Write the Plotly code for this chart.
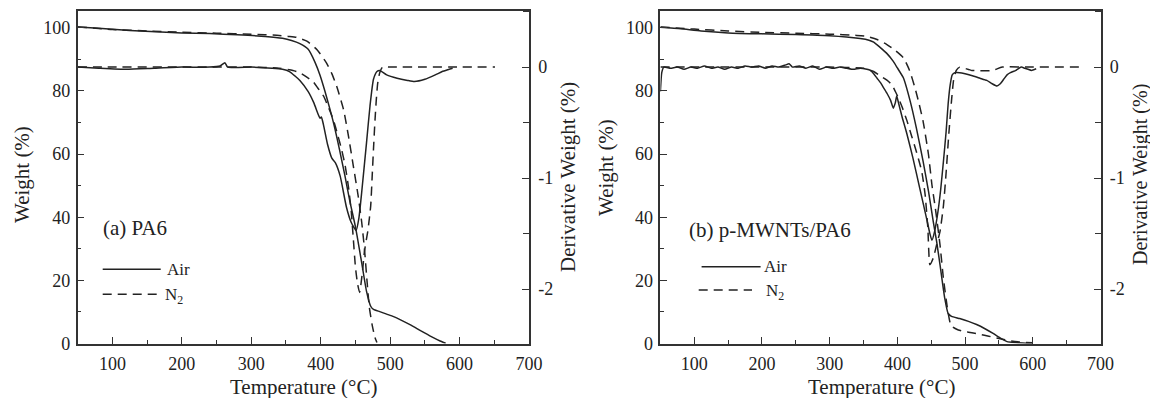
import plotly.graph_objects as go

# ---------------- data ----------------
# Panel (a) PA6
a_tga_air_T = [50, 80, 110, 140, 170, 200, 240, 280, 320, 345, 358, 370, 382, 392, 399, 406, 413, 420, 427, 435,
               442, 450, 459, 466, 472, 476, 485, 495, 505, 515, 530, 545, 560, 572, 580]
a_tga_air_W = [100.3, 99.9, 99.4, 99.0, 98.7, 98.4, 98.2, 97.8, 97.3, 96.7, 96.0, 95.0, 93.2, 89.0, 85.0, 80.0, 74.5,
               68.5, 61.5, 53.0, 45.0, 37.0, 25.6, 16.5, 11.8, 10.8, 10.1, 9.3, 8.5, 7.5, 5.8, 3.9, 2.1, 0.8, 0.1]

a_tga_n2_T = [50, 100, 150, 200, 250, 300, 340, 353, 365, 380, 395, 408, 416, 423, 433, 440, 447, 454, 459, 463,
              467, 470, 474, 478, 481]
a_tga_n2_W = [100.3, 99.5, 99.0, 98.6, 98.3, 98.0, 97.6, 97.3, 97.0, 95.8, 93.0, 89.0, 85.5, 81.5, 74.0, 65.7, 56.2,
              46.7, 38.5, 30.0, 19.0, 11.5, 6.0, 2.0, 0.3]

a_dtg_air_T = [50, 80, 120, 160, 200, 240, 255, 262, 266, 300, 330, 345, 355, 363, 370, 382, 390, 396, 399, 401,
               404, 410, 416, 421, 428, 437, 444, 451, 455, 459, 466, 471, 476, 481, 485, 495, 510, 525, 535, 550,
               565, 575, 585, 590]
a_dtg_air_D = [0.0, -0.01, -0.02, -0.01, 0.0, 0.0, 0.01, 0.04, 0.0, 0.0, -0.01, -0.02, -0.04, -0.08, -0.12, -0.22,
               -0.32, -0.42, -0.46, -0.45, -0.52, -0.70, -0.82, -0.86, -0.98, -1.26, -1.40, -1.47, -1.36, -1.13,
               -0.68, -0.35, -0.11, -0.04, -0.03, -0.07, -0.10, -0.12, -0.13, -0.11, -0.07, -0.04, -0.02, -0.01]

a_dtg_n2_T = [50, 100, 200, 300, 340, 360, 370, 380, 389, 396, 404, 411, 418, 424, 430, 435, 440, 444, 447, 450,
              453, 456, 460, 463, 468, 472, 474, 476, 478, 480, 482, 485, 489, 500, 550, 600, 651]
a_dtg_n2_D = [0.0, 0.0, 0.0, 0.0, -0.01, -0.03, -0.05, -0.09, -0.13, -0.19, -0.26, -0.36, -0.47, -0.60, -0.74,
              -0.88, -1.08, -1.30, -1.55, -1.80, -1.95, -2.03, -1.85, -1.66, -1.47, -1.25, -1.00, -0.74, -0.50,
              -0.30, -0.15, -0.05, 0.0, 0.0, 0.0, 0.0, 0.0]

# Panel (b) p-MWNTs/PA6
b_tga_air_T = [50, 80, 110, 150, 200, 250, 300, 345, 358, 365, 374, 384, 394, 400, 409, 419, 428, 438, 446, 453,
               458, 463, 470, 475, 480, 492, 505, 517, 530, 542, 550, 556, 562, 575, 590, 600]
b_tga_air_W = [100.2, 99.7, 99.0, 98.4, 98.1, 97.9, 97.5, 96.6, 96.1, 95.5, 93.9, 92.0, 89.4, 87.3, 84.1, 76.7,
               68.3, 57.7, 48.2, 38.6, 32.3, 24.9, 14.3, 9.5, 8.6, 7.9, 7.0, 6.0, 4.6, 3.1, 2.0, 1.2, 0.6, 0.3,
               0.1, 0.0]

b_tga_n2_T = [50, 100, 150, 200, 250, 300, 340, 355, 370, 384, 397, 409, 418, 426, 432, 438, 446, 451, 456, 463,
              468, 474, 478, 482, 490, 500, 510, 522, 535, 550, 565, 580, 600]
b_tga_n2_W = [100.3, 99.6, 99.0, 98.6, 98.3, 98.0, 97.6, 97.3, 96.3, 94.8, 92.8, 90.5, 86.5, 81.0, 76.0, 70.4,
              59.8, 50.3, 43.0, 31.2, 20.6, 11.0, 6.5, 5.2, 4.3, 3.8, 3.4, 2.9, 2.3, 1.6, 0.9, 0.5, 0.2]

b_dtg_air_T = [50, 52, 55, 65, 75, 85, 95, 105, 115, 125, 135, 145, 155, 165, 175, 185, 195, 205, 215, 225,
               235, 240, 245, 255, 265, 275, 285, 295, 305, 315, 325, 335, 345, 355, 360, 365, 370, 375, 380, 385,
               390, 394, 397, 399, 402, 407, 414, 423, 433, 443, 448, 451, 455, 460, 464, 468, 472, 475, 478, 481,
               485, 492, 500, 512, 522, 532, 540, 547, 552, 557, 562, 567, 575, 583, 588, 593, 598, 605]
b_dtg_air_D = [-0.22, -0.05, 0.0, -0.01, 0.0, -0.02, 0.0, -0.01, 0.01, -0.01, 0.0, -0.02, 0.0, -0.01, 0.01, 0.0,
               0.01, -0.01, 0.01, 0.0, 0.02, 0.03, 0.0, 0.01, -0.01, 0.01, -0.02, 0.0, -0.01, 0.0, -0.01, -0.02,
               -0.01, -0.02, -0.03, -0.06, -0.10, -0.14, -0.19, -0.24, -0.30, -0.37, -0.32, -0.26, -0.33, -0.45,
               -0.60, -0.82, -1.09, -1.36, -1.50, -1.56, -1.48, -1.30, -1.10, -0.85, -0.58, -0.33, -0.16, -0.07,
               -0.05, -0.05, -0.06, -0.08, -0.10, -0.12, -0.15, -0.17, -0.15, -0.11, -0.07, -0.05, -0.03, 0.0,
               -0.01, -0.02, -0.03, -0.015]

b_dtg_n2_T = [50, 100, 200, 300, 350, 365, 375, 385, 392, 397, 401, 407, 414, 421, 428, 436, 441, 445, 448, 453,
              458, 463, 468, 472, 476, 480, 483, 487, 492, 510, 540, 555, 600, 670]
b_dtg_n2_D = [0.0, 0.0, 0.0, 0.0, -0.01, -0.04, -0.08, -0.12, -0.16, -0.22, -0.27, -0.36, -0.48, -0.62, -0.76,
              -0.94, -1.15, -1.45, -1.78, -1.72, -1.60, -1.48, -1.25, -0.95, -0.60, -0.30, -0.12, -0.03, 0.0,
              -0.03, -0.03, 0.0, 0.0, 0.0]

x_ticks = [100, 200, 300, 400, 500, 600, 700]
y_ticks = [0, 20, 40, 60, 80, 100]
y2_ticks = [-2, -1, 0]
y2_labels = ["-2", "-1", "0"]
panel_labels = ["(a) PA6", "(b) p-MWNTs/PA6"]
legend_labels = ["Air", "N<sub>2</sub>"]

# ---------------- figure ----------------
# The page body has an 8px margin, so the figure is drawn 8px in from the
# window's top-left corner; size it so that it ends at the window's edges.
OFF = 8
WIN_W, WIN_H = 1158, 398
W, H = WIN_W - OFF, WIN_H - OFF
FONT = "Liberation Serif"
INK = "#222222"
DASH = "9px,6px"
LW = 1.5


def px(x):
    return (x - OFF) / W


def py(y):
    return 1 - (y - OFF) / H


fig = go.Figure()


def add_panel(n, tga_air, tga_n2, dtg_air, dtg_n2):
    xa = "x" if n == 0 else "x2"
    ya = "y" if n == 0 else "y3"
    ya2 = "y2" if n == 0 else "y4"
    for (T, V), yref, dash in [(tga_air, ya, "solid"), (tga_n2, ya, DASH),
                               (dtg_air, ya2, "solid"), (dtg_n2, ya2, DASH)]:
        fig.add_trace(go.Scatter(x=T, y=V, xaxis=xa, yaxis=yref, mode="lines",
                                 line=dict(color=INK, width=LW, dash=dash, shape="spline", smoothing=0.5),
                                 showlegend=False, hoverinfo="skip"))


add_panel(0, (a_tga_air_T, a_tga_air_W), (a_tga_n2_T, a_tga_n2_W),
          (a_dtg_air_T, a_dtg_air_D), (a_dtg_n2_T, a_dtg_n2_D))
add_panel(1, (b_tga_air_T, b_tga_air_W), (b_tga_n2_T, b_tga_n2_W),
          (b_dtg_air_T, b_dtg_air_D), (b_dtg_n2_T, b_dtg_n2_D))

ydom = [py(343.5), py(10.5)]
xdoms = [[px(77.7), px(529.0)], [px(660.4), px(1100.5)]]

tickfont = dict(family=FONT, size=18, color=INK)
axline = dict(showline=True, linecolor="#333333", linewidth=1.5, showgrid=False, zeroline=False,
              automargin=False, fixedrange=True)


def xaxis_cfg(dom, anchor):
    return dict(domain=dom, anchor=anchor, range=[50, 700], tickmode="array", tickvals=x_ticks,
                ticks="inside", ticklen=7, tickwidth=1.3, tickcolor="#333333", mirror=True,
                ticklabelstandoff=3,
                minor=dict(tickmode="linear", tick0=50, dtick=50, ticks="inside", ticklen=4,
                           tickwidth=1.2, tickcolor="#333333"),
                tickfont=tickfont, **axline)


def yaxis_cfg(anchor):
    return dict(domain=ydom, anchor=anchor, range=[0, 105.5], tickmode="array", tickvals=y_ticks,
                ticks="inside", ticklen=7, tickwidth=1.3, tickcolor="#333333",
                ticklabelstandoff=2,
                minor=dict(tickmode="linear", tick0=0, dtick=10, ticks="inside", ticklen=4,
                           tickwidth=1.2, tickcolor="#333333"),
                tickfont=tickfont, **axline)


def y2axis_cfg(anchor, overlay):
    return dict(domain=ydom, anchor=anchor, overlaying=overlay, side="right", range=[-2.49, 0.51],
                tickmode="array", tickvals=y2_ticks, ticktext=y2_labels,
                ticks="inside", ticklen=7, tickwidth=1.3, tickcolor="#333333",
                ticklabelstandoff=4,
                minor=dict(tickmode="linear", tick0=0, dtick=0.5, ticks="inside", ticklen=6,
                           tickwidth=1.2, tickcolor="#333333"),
                tickfont=tickfont, **axline)


fig.update_layout(
    template="none",
    width=W, height=H, autosize=False,
    margin=dict(l=0, r=0, t=0, b=0, pad=0),
    paper_bgcolor="white", plot_bgcolor="white",
    font=dict(family=FONT, color=INK),
    xaxis=xaxis_cfg(xdoms[0], "y"),
    yaxis=yaxis_cfg("x"),
    yaxis2=y2axis_cfg("x", "y"),
    xaxis2=xaxis_cfg(xdoms[1], "y3"),
    yaxis3=yaxis_cfg("x2"),
    yaxis4=y2axis_cfg("x2", "y3"),
)

ann = []
titlefont = dict(family=FONT, size=21, color=INK)
# axis titles
for cx in [303, 881]:
    ann.append(dict(text="Temperature (°C)", x=px(cx), y=py(387), xref="paper", yref="paper",
                    xanchor="center", yanchor="middle", showarrow=False, font=titlefont))
for cx, cy in [(22, 175), (606, 168)]:
    ann.append(dict(text="Weight (%)", x=px(cx), y=py(cy), xref="paper", yref="paper", textangle=-90,
                    xanchor="center", yanchor="middle", showarrow=False, font=titlefont))
for cx, cy, fs in [(568, 177, 21), (1140, 175, 20)]:
    ann.append(dict(text="Derivative Weight (%)", x=px(cx), y=py(cy), xref="paper", yref="paper",
                    textangle=-90, xanchor="center", yanchor="middle", showarrow=False,
                    font=dict(family=FONT, size=fs, color=INK)))
# panel labels
for lab, lx, ly in [(panel_labels[0], 100.6, 228), (panel_labels[1], 687, 230)]:
    ann.append(dict(text=lab, x=px(lx), y=py(ly), xref="paper", yref="paper", xanchor="left",
                    yanchor="middle", showarrow=False, font=dict(family=FONT, size=21, color=INK)))

# legend samples (decoration)
shapes = []
legfont = dict(family=FONT, size=17, color=INK)
for (sx0, sx1, sy, tx), (dx0, dx1, dy, tx2) in [((102.7, 160.7, 269.3, 165), (102.7, 157, 294.3, 163)),
                                                ((701.6, 760.6, 266.7, 762), (698.7, 752, 290.0, 764))]:
    shapes.append(dict(type="line", xref="paper", yref="paper", x0=px(sx0), x1=px(sx1), y0=py(sy), y1=py(sy),
                       line=dict(color=INK, width=LW)))
    shapes.append(dict(type="line", xref="paper", yref="paper", x0=px(dx0), x1=px(dx1), y0=py(dy), y1=py(dy),
                       line=dict(color=INK, width=LW, dash=DASH)))
    ann.append(dict(text=legend_labels[0], x=px(tx), y=py(sy), xref="paper", yref="paper", xanchor="left",
                    yanchor="middle", showarrow=False, font=legfont))
    ann.append(dict(text=legend_labels[1], x=px(tx2), y=py(dy + 2), xref="paper", yref="paper",
                    xanchor="left", yanchor="middle", showarrow=False, font=legfont))

fig.update_layout(annotations=ann, shapes=shapes)

fig.write_html("out.html")
